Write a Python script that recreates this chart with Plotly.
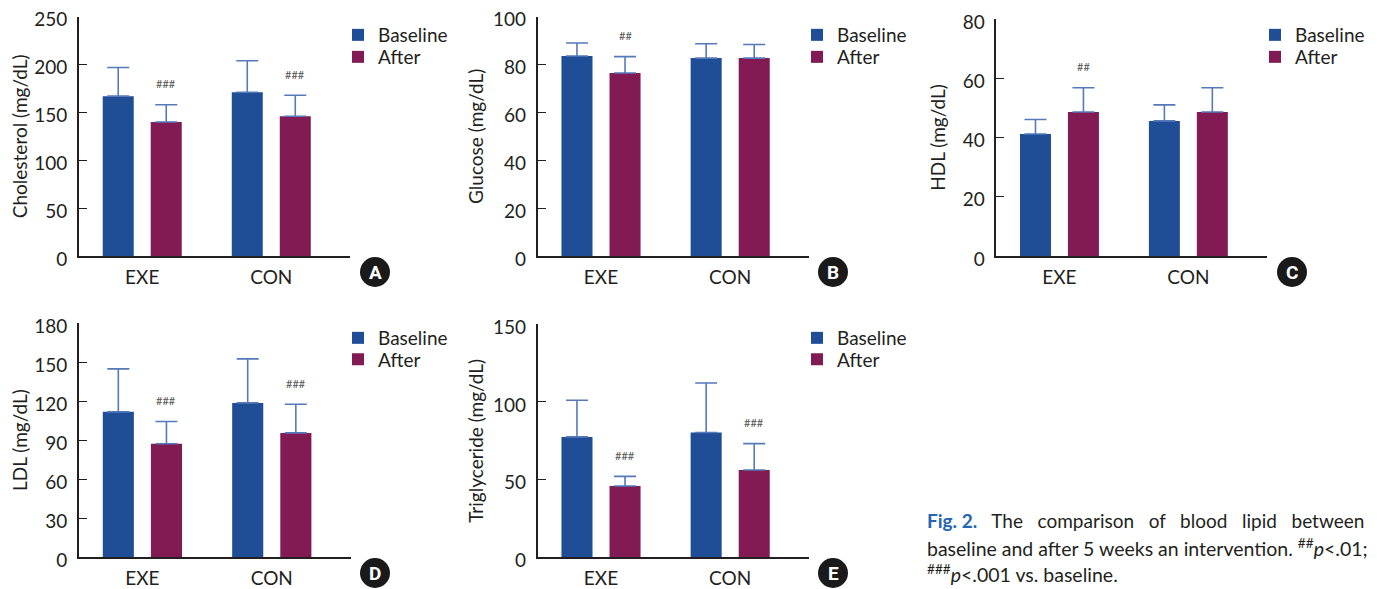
import plotly.graph_objects as go

# the page shows the figure with an 8 px body margin; reference pixel
# positions below are mapped through that offset
OFF = 8
W, H = 1377 - OFF, 589 - OFF

categories = ["EXE", "CON"]
series_names = ["Baseline", "After"]

chol_base = [167, 171]
chol_base_sd = [30, 33]
chol_after = [140, 146]
chol_after_sd = [18, 22]
chol_sig = ["###", "###"]

glu_base = [83.6, 82.7]
glu_base_sd = [5.4, 6.0]
glu_after = [76.5, 82.7]
glu_after_sd = [6.8, 5.7]
glu_sig = ["##", ""]

hdl_base = [41.2, 45.6]
hdl_base_sd = [4.9, 5.4]
hdl_after = [48.6, 48.6]
hdl_after_sd = [8.2, 8.2]
hdl_sig = ["##", ""]

ldl_base = [111.8, 118.7]
ldl_base_sd = [33.1, 33.9]
ldl_after = [87.2, 95.6]
ldl_after_sd = [17.2, 22.1]
ldl_sig = ["###", "###"]

tg_base = [77.5, 80.3]
tg_base_sd = [23.6, 31.9]
tg_after = [45.9, 56.2]
tg_after_sd = [6.2, 17.0]
tg_sig = ["###", "###"]

y_titles = ["Cholesterol (mg/dL)", "Glucose (mg/dL)", "HDL (mg/dL)", "LDL (mg/dL)", "Triglyceride (mg/dL)"]
y_max = [250, 100, 80, 180, 150]
y_dtick = [50, 20, 20, 30, 50]
panel_letters = ["A", "B", "C", "D", "E"]

BLUE = "#1f4e96"
MAROON = "#821b53"
ERR = "#5679b9"
TXT = "#231f20"
FONT = "Lato"

# pixel layout of each panel: (x_left, x_right, y_top, y_bottom)
boxes = [
    (79, 350, 16.7, 256),
    (537.7, 809, 16.7, 256),
    (996.3, 1267, 19, 256),
    (79, 350.7, 323.3, 557),
    (537.7, 809, 324.3, 557.3),
]
title_standoff = [4, 4, 12, 5, 4]
# legend square left x, first entry centre y, second entry centre y
legend_pos = [(354, 35, 57), (813, 35, 57), (1271, 35, 57), (354, 338, 359.5), (813, 338, 359.5)]
badge_pos = [(375, 272), (833, 272), (1292, 272), (375, 573), (833, 573)]

panels = [
    (chol_base, chol_base_sd, chol_after, chol_after_sd, chol_sig),
    (glu_base, glu_base_sd, glu_after, glu_after_sd, glu_sig),
    (hdl_base, hdl_base_sd, hdl_after, hdl_after_sd, hdl_sig),
    (ldl_base, ldl_base_sd, ldl_after, ldl_after_sd, ldl_sig),
    (tg_base, tg_base_sd, tg_after, tg_after_sd, tg_sig),
]

fig = go.Figure()
annotations = []
shapes = []


def px(x):
    return (x - OFF) / W


def py(y):
    return 1 - (y - OFF) / H


for i, (b, bsd, a, asd, sig) in enumerate(panels):
    n = "" if i == 0 else str(i + 1)
    xa, ya = "x" + n, "y" + n
    lx, ly1, ly2 = legend_pos[i]
    for k, (name, vals, sd, col) in enumerate(
            [(series_names[0], b, bsd, BLUE), (series_names[1], a, asd, MAROON)]):
        lnum = 2 * i + k + 1
        lg = "legend" if lnum == 1 else "legend%d" % lnum
        fig.add_trace(go.Bar(
            x=categories, y=vals, name=name, marker=dict(color=col, line=dict(width=0)),
            error_y=dict(type="data", array=sd, arrayminus=[0] * len(sd), symmetric=False,
                         color=ERR, thickness=1.6, width=11),
            xaxis=xa, yaxis=ya, legend=lg,
        ))
        fig.layout[lg] = dict(
            x=px(lx - 16), y=py(ly1 if k == 0 else ly2), xanchor="left", yanchor="middle",
            bgcolor="rgba(0,0,0,0)", borderwidth=0,
            font=dict(family=FONT, size=19, color=TXT), itemwidth=30,
        )
    x0, x1, y0, y1 = boxes[i]
    fig.layout["xaxis" + n] = dict(
        domain=[px(x0), px(x1)], anchor=ya, type="category",
        range=[-0.49, 1.61], showline=True, linecolor=TXT, linewidth=1.6,
        ticks="", showgrid=False, zeroline=False,
        tickfont=dict(family=FONT, size=19, color=TXT), ticklabelstandoff=3,
    )
    fig.layout["yaxis" + n] = dict(
        domain=[py(y1), py(y0)], anchor=xa, range=[0, y_max[i]], dtick=y_dtick[i],
        showline=True, linecolor=TXT, linewidth=1.6, ticks="inside", ticklen=8,
        tickcolor=TXT, tickwidth=1.4, showgrid=False, zeroline=False,
        tickfont=dict(family=FONT, size=19, color=TXT), ticklabelstandoff=6,
        ticklabelshift=3, ticklabeloverflow="allow",
        title=dict(text=y_titles[i], font=dict(family=FONT, size=19, color=TXT),
                   standoff=title_standoff[i]),
    )
    for j, s in enumerate(sig):
        if s:
            annotations.append(dict(
                x=categories[j], y=a[j] + asd[j], xref=xa, yref=ya, text=s, showarrow=False,
                xshift=24, yshift=21, yanchor="middle",
                font=dict(family=FONT, size=11, color="#555555"),
            ))
    bx, by = badge_pos[i]
    shapes.append(dict(
        type="circle", xref="paper", yref="paper", xsizemode="pixel", ysizemode="pixel",
        xanchor=px(bx), yanchor=py(by), x0=-15, x1=15, y0=-15, y1=15,
        fillcolor="#1a1a1a", line=dict(width=0),
    ))
    annotations.append(dict(
        x=px(bx), y=py(by), xref="paper", yref="paper", text="<b>%s</b>" % panel_letters[i],
        showarrow=False, xanchor="center", yanchor="middle",
        font=dict(family="Roboto", size=19, color="white"),
    ))

SP = "&nbsp;&nbsp; "
caption_lines = [
    '<b><span style="color:#2566b0">Fig. 2.</span></b>' + SP + SP.join(
        ["The", "comparison", "of", "blood", "lipid", "between"]),
    'baseline and after 5 weeks an intervention. <sup>##</sup><i>p</i>&lt;.01;',
    '<sup>###</sup><i>p</i>&lt;.001 vs. baseline.',
]
caption_y = [520, 547, 573]
caption_size = [19, 19.5, 19.5]
for t, cy, fs in zip(caption_lines, caption_y, caption_size):
    annotations.append(dict(
        x=px(925), y=py(cy), xref="paper", yref="paper", text=t, showarrow=False,
        xanchor="left", yanchor="middle", align="left",
        font=dict(family=FONT, size=fs, color=TXT),
    ))

fig.update_layout(
    width=W, height=H, margin=dict(l=0, r=0, t=0, b=0, autoexpand=False),
    paper_bgcolor="white", plot_bgcolor="white",
    barmode="group", bargap=0.256, bargroupgap=0.354,
    annotations=annotations, shapes=shapes, showlegend=True,
)

fig.write_html("out.html")
